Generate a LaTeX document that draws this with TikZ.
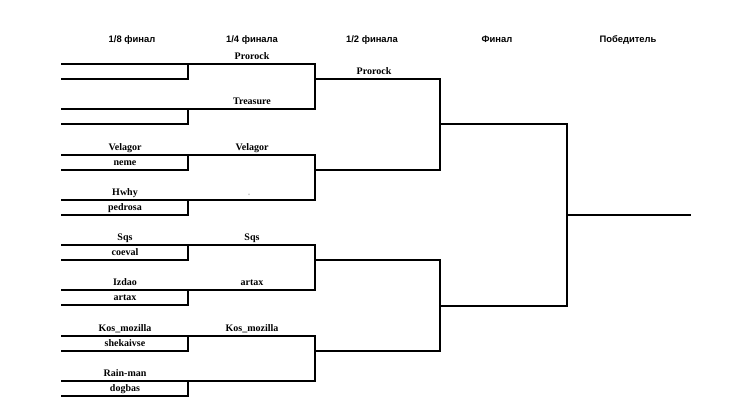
\documentclass[tikz,border=0pt]{standalone}
\usepackage{fontspec}
\setmainfont{Liberation Serif}
\newfontfamily\hdrfont{Liberation Sans}
\tikzset{
  br/.style={line width=1.1pt, line cap=rect},
  hdr/.style={font=\hdrfont\bfseries\fontsize{9.4}{10}\selectfont, anchor=base, inner sep=0pt},
  nm/.style={font=\bfseries\fontsize{10}{11}\selectfont, anchor=base, inner sep=0pt},
}
\begin{document}
\begin{tikzpicture}[x=1pt,y=-1pt]
\useasboundingbox (0,0) rectangle (733,415);
% headers
\node[hdr] (h1) at (132,42) {1/8 финал};
\node[hdr] (h2) at (252,42) {1/4 финала};
\node[hdr] (h3) at (372,42) {1/2 финала};
\node[hdr] (h4) at (497,42) {Финал};
\node[hdr] (h5) at (628,42) {Победитель};
% round 1 and quarterfinal lines
\foreach \i/\t in {1/64,2/109,3/155,4/200,5/245,6/290,7/336,8/381}{
  \coordinate (a\i) at (62,\t);
  \coordinate (b\i) at (188,\t);
  \coordinate (q\i) at (315,\t);
  \coordinate (c\i) at (62,\t+15);
  \coordinate (d\i) at (188,\t+15);
  \draw[br] (a\i) -- (q\i);
  \draw[br] (c\i) -- (d\i) -- (b\i);
}
% semifinal lines
\foreach \k/\u/\v/\y in {1/1/2/79,2/3/4/170,3/5/6/260,4/7/8/351}{
  \coordinate (sl\k) at (315,\y);
  \coordinate (sr\k) at (440,\y);
  \draw[br] (q\u) -- (q\v);
  \draw[br] (sl\k) -- (sr\k);
}
% final lines
\coordinate (fl1) at (440,124);
\coordinate (fr1) at (567,124);
\coordinate (fl2) at (440,306);
\coordinate (fr2) at (567,306);
\draw[br] (sr1) -- (sr2);
\draw[br] (sr3) -- (sr4);
\draw[br] (fl1) -- (fr1);
\draw[br] (fl2) -- (fr2);
\draw[br] (fr1) -- (fr2);
% winner line
\coordinate (wl) at (567,215);
\coordinate (wr) at (690,215);
\draw[br] (wl) -- (wr);
% round 1 names
\node[nm] (r3a) at (125,150) {Velagor};
\node[nm] (r3b) at (125,165.5) {neme};
\node[nm] (r4a) at (125,195) {Hwhy};
\node[nm] (r4b) at (125,210.5) {pedrosa};
\node[nm] (r5a) at (125,240) {Sqs};
\node[nm] (r5b) at (125,255.5) {coeval};
\node[nm] (r6a) at (125,285) {Izdao};
\node[nm] (r6b) at (125,300.5) {artax};
\node[nm] (r7a) at (125,331) {Kos\_mozilla};
\node[nm] (r7b) at (125,346.5) {shekaivse};
\node[nm] (r8a) at (125,376) {Rain-man};
\node[nm] (r8b) at (125,391.5) {dogbas};
% quarterfinal names
\node[nm] (qf1) at (252,59) {Prorock};
\node[nm] (qf2) at (252,104) {Treasure};
\node[nm] (qf3) at (252,150) {Velagor};
\node[nm, text=black!25] (qf4) at (249,195) {.};
\node[nm] (qf5) at (252,240) {Sqs};
\node[nm] (qf6) at (252,285) {artax};
\node[nm] (qf7) at (252,331) {Kos\_mozilla};
% semifinal name
\node[nm] (sf1) at (374,74) {Prorock};
\end{tikzpicture}
\end{document}
